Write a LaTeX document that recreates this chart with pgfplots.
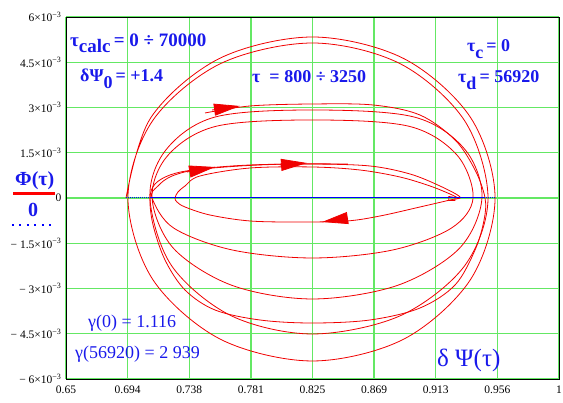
\documentclass[border=0pt]{standalone}
\usepackage{fontspec}
\setmainfont{Liberation Serif}
\usepackage{pgfplots}
\pgfplotsset{compat=1.18}
\usetikzlibrary{arrows.meta}
\definecolor{gridgreen}{RGB}{100,232,100}
\definecolor{txtblue}{RGB}{25,25,235}
\definecolor{curvered}{RGB}{240,0,0}
\newcommand{\tl}[1]{#1×10\textsuperscript{−3}}
\begin{document}
\begin{tikzpicture}[x=1pt,y=1pt]
\begin{axis}[at={(0,0)}, anchor=south west, scale only axis, width=493pt, height=362pt,
  xmin=0.65, xmax=1, ymin=-6, ymax=6,
  xtick={0.65,0.69375,0.7375,0.78125,0.825,0.86875,0.9125,0.95625,1},
  xticklabels={0.65,0.694,0.738,0.781,0.825,0.869,0.913,0.956,1},
  ytick={-6,-4.5,-3,-1.5,0,1.5,3,4.5,6},
  yticklabels={\tl{− 6},\tl{− 4.5},\tl{− 3},\tl{− 1.5},0,\tl{1.5},\tl{3},\tl{4.5},\tl{6}},
  grid=major, major grid style={gridgreen, line width=1.3pt},
  major tick length=0pt,
  axis line style={black, line width=0.9pt},
  tick label style={font=\fontsize{11.5}{13}\selectfont},
  xticklabel style={yshift=-3pt},
  yticklabel style={xshift=-1pt},
  clip=true]
% main trajectory
\addplot[curvered, line width=0.8pt, smooth, tension=0.55] coordinates {
(0.6926,0) (0.7103,2.669) (0.7588,4.622) (0.825,5.337) (0.8898,4.622) (0.9372,2.669) (0.9546,0)
(0.9372,-2.702) (0.8898,-4.679) (0.825,-5.403) (0.7595,-4.679) (0.7116,-2.702) (0.6940,0)
(0.7116,2.569) (0.7595,4.450) (0.825,5.138) (0.8873,4.450) (0.9329,2.569) (0.9496,0)
(0.9329,-2.254) (0.8873,-3.904) (0.825,-4.508) (0.7673,-3.904) (0.7251,-2.254) (0.7096,0)
(0.7211,1.604) (0.7558,2.684) (0.825,2.917) (0.8972,2.684) (0.9333,1.604) (0.9453,0)
(0.9292,-1.674) (0.8852,-2.899) (0.825,-3.348) (0.7680,-2.899) (0.7264,-1.674) (0.7111,0)
(0.7225,1.422) (0.7567,2.379) (0.825,2.586) (0.8934,2.379) (0.9276,1.422) (0.9390,0)
(0.9237,-0.995) (0.882,-1.723) (0.825,-1.989) (0.768,-1.723) (0.7264,-0.995) (0.7111,0)
(0.7153,0.398) (0.7253,0.729) (0.7451,0.961) (0.7806,1.094) (0.8247,1.127) (0.8658,1.061) (0.8942,0.796) (0.9155,0.398) (0.9297,0.033)
(0.9226,-0.066) (0.9013,-0.298) (0.8729,-0.597) (0.8495,-0.762) (0.8161,-0.796) (0.7806,-0.762) (0.7522,-0.564) (0.7345,-0.298) (0.7288,-0.133) (0.7274,0)
(0.7295,0.199) (0.7345,0.398) (0.7451,0.729) (0.7806,0.994) (0.8247,1.028) (0.8587,0.928) (0.8871,0.696) (0.9084,0.398) (0.9226,0.133) (0.9283,0)
};
\addplot[curvered, line width=0.8pt] coordinates {(0.9283,0) (0.9218,0.05) (0.9218,-0.08) (0.9262,-0.08) (0.9262,0.05)};
% segment tau = 800 ... 3250
\addplot[curvered, line width=0.8pt, smooth, tension=0.55] coordinates {
(0.7487,2.818) (0.7806,3.050) (0.8247,3.116) (0.8680,3.083) (0.9013,2.751) (0.9262,1.923) (0.9404,0.928) (0.9475,0)
(0.9468,-0.729) (0.9404,-1.724) (0.9262,-2.884) (0.9013,-3.647) (0.8658,-4.044) (0.8247,-4.144) (0.7877,-4.044) (0.7558,-3.713) (0.7345,-3.050) (0.7203,-2.055) (0.7118,-0.895) (0.7096,0)
(0.7132,0.464) (0.7238,0.762) (0.7402,0.928) (0.7735,1.061) (0.8090,1.127) (0.8502,1.127)
};
% arrows
\addplot[curvered, line width=0.8pt, -{Triangle[length=26pt,width=12pt]}] coordinates {(0.7537,2.917) (0.7735,3.050)};
\addplot[curvered, line width=0.8pt, -{Triangle[length=26pt,width=12pt]}] coordinates {(0.7359,0.862) (0.7558,1.028)};
\addplot[curvered, line width=0.8pt, -{Triangle[length=26pt,width=12pt]}] coordinates {(0.8019,1.094) (0.8211,1.160)};
\addplot[curvered, line width=0.8pt, -{Triangle[length=26pt,width=12pt]}] coordinates {(0.8502,-0.663) (0.8318,-0.796)};
% zero trace
\addplot[blue, line width=1pt, densely dotted] coordinates {(0.6926,0) (0.9546,0)};
\addplot[blue, line width=1pt] coordinates {(0.7096,0) (0.9475,0)};
\end{axis}
% annotations
\begin{scope}[every node/.style={txtblue, inner sep=0pt}]
\node[anchor=base west, font=\fontsize{19}{21}\selectfont\bfseries] at (4,332) {τ\raisebox{-6pt}{calc}\,= 0 ÷ 70000};
\node[anchor=base west, font=\fontsize{18}{20}\selectfont\bfseries] at (14,297) {δΨ\raisebox{-7pt}{0}\,= +1.4};
\node[anchor=base west, font=\fontsize{18}{20}\selectfont\bfseries] at (186,296) {τ \ = 800 ÷ 3250};
\node[anchor=base west, font=\fontsize{18}{20}\selectfont\bfseries] at (401,327) {τ\raisebox{-7pt}{c}\,= 0};
\node[anchor=base west, font=\fontsize{18}{20}\selectfont\bfseries] at (392,296) {τ\raisebox{-7pt}{d}\,= 56920};
\node[anchor=base west, font=\fontsize{18}{20}\selectfont] at (22,51) {γ(0) = 1.116};
\node[anchor=base west, font=\fontsize{18}{20}\selectfont] at (9,20) {γ(56920) = 2 939};
\node[anchor=base west, font=\fontsize{25}{27}\selectfont] at (371,12) {δ Ψ(τ)};
\node[anchor=base west, font=\fontsize{20}{22}\selectfont\bfseries] at (-51,193) {Φ(τ)};
\node[anchor=south west] at (-53,184) {\textcolor{red}{\rule{42pt}{3pt}}};
\node[anchor=base west, font=\fontsize{20}{22}\selectfont\bfseries] at (-38,162) {0};
\end{scope}
\draw[blue, line width=2pt, dash pattern=on 2pt off 5.5pt] (-54,154) -- (-14,154);
\pgfresetboundingbox
\path (-66,-24) rectangle (497,379);
\end{tikzpicture}
\end{document}
